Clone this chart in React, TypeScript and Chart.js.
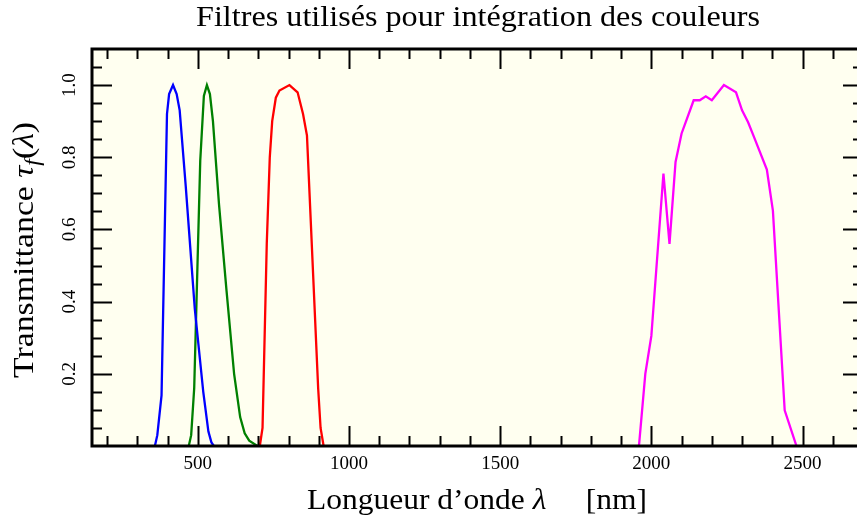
import React, { useEffect, useRef } from "react";
import { Chart, registerables } from "chart.js";

Chart.register(...registerables);

// ---- Data (wavelength in nm, transmittance 0..1) ----
const blueWl = [358, 366, 380, 398, 405, 418, 430, 440, 460, 490, 518, 535, 545, 553];
const blueT = [0, 0.03, 0.14, 0.92, 0.975, 1.0, 0.975, 0.93, 0.72, 0.38, 0.15, 0.04, 0.01, 0];

const greenWl = [470, 478, 488, 508, 520, 530, 540, 550, 570, 595, 620, 640, 655, 670, 697];
const greenT = [0, 0.03, 0.16, 0.79, 0.97, 1.0, 0.975, 0.9, 0.67, 0.43, 0.2, 0.08, 0.035, 0.015, 0];

const redWl = [705, 714, 728, 738, 746, 758, 770, 803, 830, 848, 861, 898, 906, 916];
const redT = [0, 0.05, 0.56, 0.8, 0.9, 0.965, 0.985, 1.0, 0.98, 0.92, 0.86, 0.16, 0.05, 0];

const magentaWl = [1959, 1980, 2000, 2040, 2060, 2080, 2100, 2140, 2160, 2180, 2200, 2240, 2280, 2300, 2320, 2340, 2382, 2402, 2441, 2480];
const magentaT = [0, 0.2, 0.305, 0.755, 0.56, 0.787, 0.866, 0.958, 0.958, 0.969, 0.958, 1.0, 0.98, 0.93, 0.897, 0.855, 0.766, 0.652, 0.099, 0];

const xMajorTicks = [500, 1000, 1500, 2000, 2500];
const xMinorTicks = [200, 300, 400, 600, 700, 800, 900, 1100, 1200, 1300, 1400, 1600, 1700, 1800, 1900, 2100, 2200, 2300, 2400, 2600];
const yMajorTicks = [0.2, 0.4, 0.6, 0.8, 1.0];
const yMinorTicks = [0.05, 0.1, 0.15, 0.25, 0.3, 0.35, 0.45, 0.5, 0.55, 0.65, 0.7, 0.75, 0.85, 0.9, 0.95, 1.05];
const xTickLabels = ["500", "1000", "1500", "2000", "2500"];
const yTickLabels = ["0.2", "0.4", "0.6", "0.8", "1.0"];

const TITLE = "Filtres utilisés pour intégration des couleurs";
const X_MIN = 150;
const X_MAX = 2700;
const Y_MIN = 0;
const Y_MAX = 1.1;

const SERIF = '"Liberation Serif", "Times New Roman", serif';
const CANVAS_W = 880;
const CANVAS_H = 520;

const toPoints = (xs: number[], ys: number[]) => xs.map((x, i) => ({ x, y: ys[i] }));

type Part = { text: string; font: string; dy?: number };

// Draws mixed-style text centred on (cx, cy), stretched horizontally to targetWidth
function drawRich(ctx: CanvasRenderingContext2D, parts: Part[], cx: number, cy: number, targetWidth: number) {
  let total = 0;
  const widths = parts.map((p) => {
    ctx.font = p.font;
    const w = ctx.measureText(p.text).width;
    total += w;
    return w;
  });
  const sx = targetWidth / total;
  ctx.save();
  ctx.translate(cx, cy);
  ctx.scale(sx, 1);
  let x = -total / 2;
  ctx.textAlign = "left";
  ctx.textBaseline = "alphabetic";
  parts.forEach((p, i) => {
    ctx.font = p.font;
    ctx.fillText(p.text, x, p.dy || 0);
    x += widths[i];
  });
  ctx.restore();
}

const framePlugin = {
  id: "framePlugin",
  beforeDatasetsDraw(chart: any) {
    const { ctx, chartArea } = chart;
    ctx.save();
    ctx.fillStyle = "#fffff0";
    ctx.fillRect(chartArea.left, chartArea.top, chartArea.right - chartArea.left, chartArea.bottom - chartArea.top);
    ctx.restore();
  },
  afterDatasetsDraw(chart: any) {
    const { ctx, chartArea } = chart;
    const xs = chart.scales.x;
    const ys = chart.scales.y;
    const { left, right, top, bottom } = chartArea;
    ctx.save();
    ctx.strokeStyle = "#000";
    ctx.lineCap = "butt";
    const drawX = (v: number, len: number) => {
      const px = Math.round(xs.getPixelForValue(v)) + 0.5;
      ctx.beginPath();
      ctx.moveTo(px, bottom);
      ctx.lineTo(px, bottom - len);
      ctx.moveTo(px, top);
      ctx.lineTo(px, top + len);
      ctx.stroke();
    };
    const drawY = (v: number, len: number) => {
      const py = Math.round(ys.getPixelForValue(v)) + 0.5;
      ctx.beginPath();
      ctx.moveTo(left, py);
      ctx.lineTo(left + len, py);
      ctx.moveTo(right, py);
      ctx.lineTo(right - len, py);
      ctx.stroke();
    };
    ctx.lineWidth = 2;
    xMajorTicks.forEach((v) => drawX(v, 20));
    xMinorTicks.forEach((v) => drawX(v, 10));
    yMajorTicks.forEach((v) => drawY(v, 20));
    yMinorTicks.forEach((v) => drawY(v, 10));
    ctx.lineWidth = 3;
    ctx.strokeRect(left, top, right - left, bottom - top);

    ctx.fillStyle = "#000";
    // x tick labels
    ctx.font = `19px ${SERIF}`;
    ctx.textAlign = "center";
    ctx.textBaseline = "middle";
    xMajorTicks.forEach((v, i) => {
      ctx.fillText(xTickLabels[i], xs.getPixelForValue(v), 464);
    });
    // y tick labels (rotated)
    yMajorTicks.forEach((v, i) => {
      ctx.save();
      ctx.translate(70, ys.getPixelForValue(v));
      ctx.rotate(-Math.PI / 2);
      ctx.textAlign = "center";
      ctx.textBaseline = "middle";
      ctx.fillText(yTickLabels[i], 0, 0);
      ctx.restore();
    });
    // title
    drawRich(ctx, [{ text: TITLE, font: `29px ${SERIF}` }], 478, 26, 564);
    // x axis title
    drawRich(
      ctx,
      [
        { text: "Longueur d\u2019onde ", font: `30px ${SERIF}` },
        { text: "\u03bb", font: `italic 30px ${SERIF}` },
        { text: "\u2003 [nm]", font: `30px ${SERIF}` },
      ],
      477,
      509,
      340
    );
    // y axis title (rotated)
    ctx.save();
    ctx.translate(33, 250);
    ctx.rotate(-Math.PI / 2);
    drawRich(
      ctx,
      [
        { text: "Transmittance ", font: `30px ${SERIF}` },
        { text: "\u03c4", font: `italic 30px ${SERIF}` },
        { text: "f", font: `italic 21px ${SERIF}`, dy: 6 },
        { text: "(", font: `30px ${SERIF}` },
        { text: "\u03bb", font: `italic 30px ${SERIF}` },
        { text: ")", font: `30px ${SERIF}` },
      ],
      0,
      0,
      256
    );
    ctx.restore();
    ctx.restore();
  },
};

export default function App() {
  const canvasRef = useRef<HTMLCanvasElement | null>(null);

  useEffect(() => {
    if (!canvasRef.current) return;
    const chart = new Chart(canvasRef.current, {
      type: "line",
      data: {
        datasets: [
          { label: "B", data: toPoints(blueWl, blueT), borderColor: "#0000ff" },
          { label: "V", data: toPoints(greenWl, greenT), borderColor: "#008000" },
          { label: "R", data: toPoints(redWl, redT), borderColor: "#ff0000" },
          { label: "IR", data: toPoints(magentaWl, magentaT), borderColor: "#ff00ff" },
        ].map((d) => ({ ...d, borderWidth: 2.3, pointRadius: 0, tension: 0, fill: false })),
      },
      options: {
        animation: false,
        responsive: false,
        devicePixelRatio: 1,
        layout: { padding: { left: 92, top: 49, right: CANVAS_W - 863, bottom: CANVAS_H - 446 } },
        plugins: { legend: { display: false }, title: { display: false }, tooltip: { enabled: false } },
        scales: {
          x: { type: "linear", min: X_MIN, max: X_MAX, display: false },
          y: { type: "linear", min: Y_MIN, max: Y_MAX, display: false },
        },
      },
      plugins: [framePlugin],
    });
    return () => chart.destroy();
  }, []);

  return (
    <div style={{ position: "fixed", left: 0, top: 0, width: 857, height: 520, overflow: "hidden", background: "#fff" }}>
      <canvas ref={canvasRef} width={CANVAS_W} height={CANVAS_H} style={{ display: "block" }} />
    </div>
  );
}
